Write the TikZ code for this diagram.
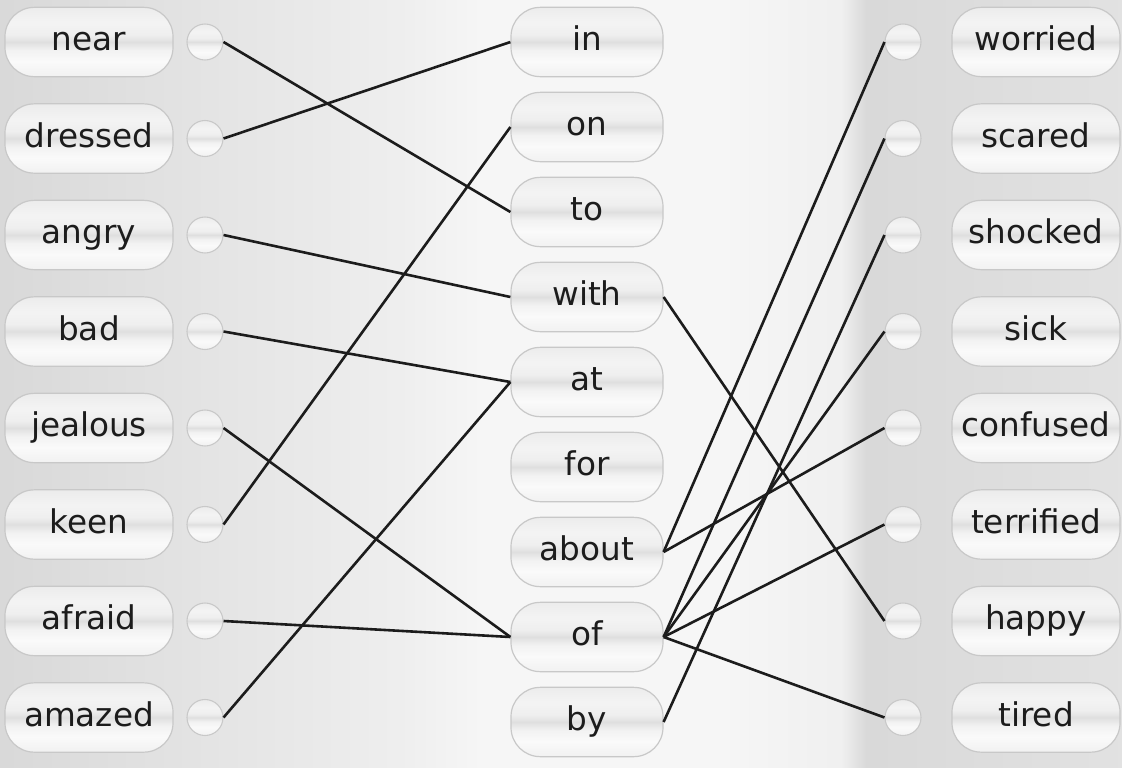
\documentclass[tikz,border=0pt]{standalone}
\usepackage{fontspec}
\setmainfont{DejaVu Sans}
\usepackage{tikz}
\usepackage{xcolor}
\usetikzlibrary{positioning}

\definecolor{ink}{HTML}{1C1C1C}
\definecolor{rim}{HTML}{C8C8C8}
\pgfdeclareverticalshading{pill}{100bp}{color(0bp)=(gray!11); color(25bp)=(gray!11);
  color(36bp)=(gray!4); color(44bp)=(gray!10); color(50bp)=(gray!25); color(55bp)=(gray!13);
  color(64bp)=(gray!9); color(75bp)=(gray!15); color(100bp)=(gray!15)}
\pgfdeclarehorizontalshading{backdrop}{100bp}{color(0bp)=(gray!30); color(25bp)=(gray!30);
  color(43bp)=(gray!13); color(46.5bp)=(gray!7); color(57bp)=(gray!7); color(62.5bp)=(gray!12);
  color(63.6bp)=(gray!30); color(75bp)=(gray!23); color(100bp)=(gray!23)}

\tikzset{
  word/.style={draw=rim, line width=0.9pt, shade, shading=pill, rounded corners=22pt,
    minimum width=126pt, minimum height=52pt, inner sep=0pt, text=ink,
    font=\fontsize{24.5}{28}\selectfont, text height=13pt, text depth=0pt},
  prep/.style={word, minimum width=114pt},
  dot/.style={circle, draw=rim, line width=0.8pt, shade, shading=pill,
    minimum size=27pt, inner sep=0pt},
  link/.style={ink, line width=1.95pt}
}

\begin{document}
\begin{tikzpicture}[x=0.75pt,y=-0.75pt]
\useasboundingbox (0,0) rectangle (1122,768);
\shade[shading=backdrop] (0,0) rectangle (1122,768);

% left column
\node[word] (near) at (89,42) {near};
\node[word] (dressed) at (89,138.5) {dressed};
\node[word] (angry) at (89,235) {angry};
\node[word] (bad) at (89,331.5) {bad};
\node[word] (jealous) at (89,428) {jealous};
\node[word] (keen) at (89,524.5) {keen};
\node[word] (afraid) at (89,621) {afraid};
\node[word] (amazed) at (89,717.5) {amazed};
\node[dot] (nearC) at (205,42) {};
\node[dot] (dressedC) at (205,138.5) {};
\node[dot] (angryC) at (205,235) {};
\node[dot] (badC) at (205,331.5) {};
\node[dot] (jealousC) at (205,428) {};
\node[dot] (keenC) at (205,524.5) {};
\node[dot] (afraidC) at (205,621) {};
\node[dot] (amazedC) at (205,717.5) {};

% prepositions
\node[prep] (pin) at (587,42) {in};
\node[prep] (pon) at (587,127) {on};
\node[prep] (pto) at (587,212) {to};
\node[prep] (pwith) at (587,297) {with};
\node[prep] (pat) at (587,382) {at};
\node[prep] (pfor) at (587,467) {for};
\node[prep] (pabout) at (587,552) {about};
\node[prep] (pof) at (587,637) {of};
\node[prep] (pby) at (587,722) {by};

% right column
\node[dot] (worriedC) at (903,42) {};
\node[dot] (scaredC) at (903,138.5) {};
\node[dot] (shockedC) at (903,235) {};
\node[dot] (sickC) at (903,331.5) {};
\node[dot] (confusedC) at (903,428) {};
\node[dot] (terrifiedC) at (903,524.5) {};
\node[dot] (happyC) at (903,621) {};
\node[dot] (tiredC) at (903,717.5) {};
\node[word] (worried) at (1036,42) {worried};
\node[word] (scared) at (1036,138.5) {scared};
\node[word] (shocked) at (1036,235) {shocked};
\node[word] (sick) at (1036,331.5) {sick};
\node[word] (confused) at (1036,428) {confused};
\node[word] (terrified) at (1036,524.5) {terrified};
\node[word] (happy) at (1036,621) {happy};
\node[word] (tired) at (1036,717.5) {tired};

% matches on the left
\draw[link] (nearC.east) -- (pto.west);
\draw[link] (dressedC.east) -- (pin.west);
\draw[link] (angryC.east) -- (pwith.west);
\draw[link] (badC.east) -- (pat.west);
\draw[link] (jealousC.east) -- (pof.west);
\draw[link] (keenC.east) -- (pon.west);
\draw[link] (afraidC.east) -- (pof.west);
\draw[link] (amazedC.east) -- (pat.west);

% matches on the right
\draw[link] (pwith.east) -- (happyC.west);
\draw[link] (pabout.east) -- (worriedC.west);
\draw[link] (pabout.east) -- (confusedC.west);
\draw[link] (pof.east) -- (scaredC.west);
\draw[link] (pof.east) -- (sickC.west);
\draw[link] (pof.east) -- (terrifiedC.west);
\draw[link] (pof.east) -- (tiredC.west);
\draw[link] (pby.east) -- (shockedC.west);
\end{tikzpicture}
\end{document}
